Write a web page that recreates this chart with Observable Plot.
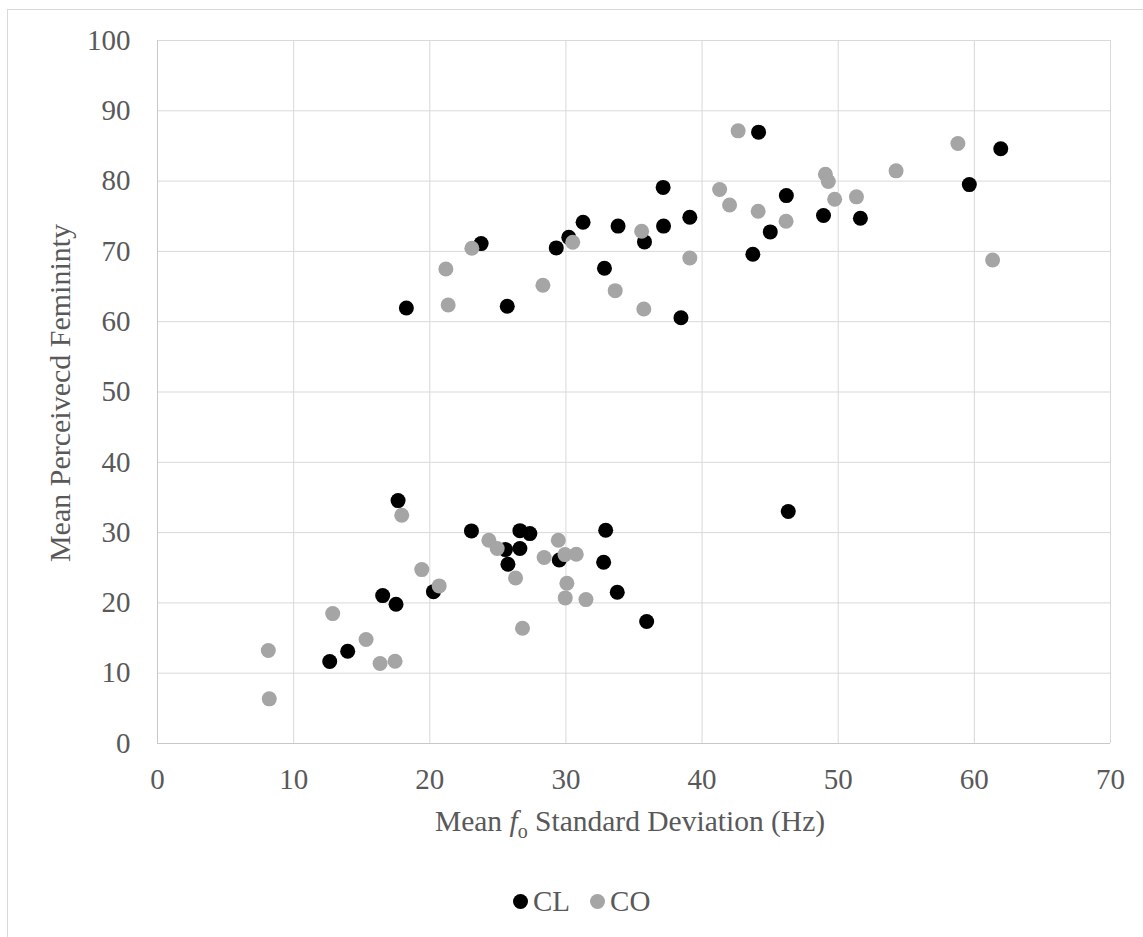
<!DOCTYPE html>
<html><head><meta charset="utf-8">
<script src="https://cdn.jsdelivr.net/npm/d3@7"></script>
<script src="https://cdn.jsdelivr.net/npm/@observablehq/plot@0.6"></script>
<style>
body{margin:0;background:#fff;overflow:hidden;}
#wrap{position:relative;width:1143px;height:937px;overflow:hidden;font-family:"Liberation Serif",serif;color:#595959;}
#frame{position:absolute;left:7px;top:9px;width:1200px;height:1000px;border:1px solid #d9d9d9;box-sizing:border-box;}
#chart{position:absolute;left:0;top:0;}
#legend{position:absolute;top:881px;left:513px;height:40px;display:flex;align-items:center;font-size:29px;color:#595959;}
#legend .sw{display:inline-block;width:15px;height:15px;border-radius:50%;margin-right:5px;}
#legend .item{display:flex;align-items:center;margin-right:20px;}
</style></head>
<body>
<div id="wrap"><div id="frame"></div><div id="chart"></div><div id="legend"></div></div>
<script>
const seriesNames = ["CL", "CO"];
const seriesColors = ["#000000", "#a5a5a5"];
const xTicks = [0, 10, 20, 30, 40, 50, 60, 70];
const yTicks = [0, 10, 20, 30, 40, 50, 60, 70, 80, 90, 100];

const clX = [23.77,18.28,25.69,29.29,30.21,31.26,33.83,35.77,37.14,37.17,39.1,32.83,38.45,44.15,46.19,45.01,43.73,48.92,51.63,61.94,59.63,
  17.67,23.06,25.56,26.62,27.35,26.62,25.74,20.27,16.54,17.52,13.97,12.65,29.51,32.92,32.77,33.77,35.93,46.33];
const clY = [71.11,61.95,62.2,70.5,72.0,74.15,73.6,71.35,79.1,73.6,74.86,67.6,60.57,86.96,77.94,72.77,69.59,75.1,74.72,84.6,79.5,
  34.55,30.24,27.58,30.28,29.86,27.73,25.5,21.6,21.04,19.81,13.13,11.66,26.11,30.33,25.78,21.52,17.35,33.0];
const coX = [23.09,21.18,21.35,28.31,30.5,35.56,33.62,35.72,39.1,42.65,41.29,42.02,44.12,46.17,49.06,49.27,49.74,51.34,54.25,58.79,61.34,
  17.94,24.34,24.95,26.3,28.4,26.81,19.41,20.69,12.87,15.32,16.35,17.45,8.14,8.21,29.44,29.93,30.76,30.07,29.95,31.47];
const coY = [70.45,67.5,62.38,65.18,71.3,72.87,64.42,61.8,69.07,87.15,78.8,76.6,75.71,74.29,80.98,79.94,77.42,77.76,81.46,85.35,68.78,
  32.46,28.91,27.73,23.55,26.45,16.4,24.74,22.42,18.48,14.79,11.37,11.7,13.22,6.35,28.91,26.87,26.92,22.8,20.71,20.47];

const cl = clX.map((x, i) => ({x, y: clY[i], s: seriesNames[0]}));
const co = coX.map((x, i) => ({x, y: coY[i], s: seriesNames[1]}));

const chart = Plot.plot({
  width: 1143, height: 870,
  marginLeft: 157, marginRight: 33, marginTop: 40, marginBottom: 127,
  style: {fontFamily: '"Liberation Serif", serif', fontSize: "29px", color: "#595959", background: "transparent", overflow: "visible"},
  x: {domain: [0, 70], ticks: xTicks, tickSize: 0, tickPadding: 25, label: null},
  y: {domain: [0, 100], ticks: yTicks, tickSize: 0, tickPadding: 27, label: null},
  marks: [
    Plot.gridX(xTicks, {stroke: "#d9d9d9", strokeOpacity: 1}),
    Plot.gridY(yTicks, {stroke: "#d9d9d9", strokeOpacity: 1}),
    Plot.ruleX([0], {stroke: "#c8c8c8"}),
    Plot.ruleY([0], {stroke: "#c8c8c8"}),
    Plot.dot(cl, {x: "x", y: "y", r: 7.5, fill: seriesColors[0]}),
    Plot.dot(co, {x: "x", y: "y", r: 7.5, fill: seriesColors[1]})
  ]
});
document.getElementById("chart").appendChild(chart);

const svg = d3.select(chart);
const xt = svg.append("text").attr("x", 630).attr("y", 831).attr("text-anchor", "middle")
  .attr("fill", "#595959").style("font-size", "29.5px").style("white-space", "pre");
xt.append("tspan").text("Mean ");
xt.append("tspan").attr("font-style", "italic").text("f");
xt.append("tspan").attr("dy", 7).attr("font-size", "20px").text("o");
xt.append("tspan").attr("dy", -7).text(" Standard Deviation (Hz)");

svg.append("text").attr("transform", "translate(70,393) rotate(-90)").attr("text-anchor", "middle")
  .attr("fill", "#595959").style("font-size", "30px").text("Mean Perceivecd Femininty");

const leg = d3.select("#legend");
seriesNames.forEach((n, i) => {
  const it = leg.append("div").attr("class", "item");
  it.append("span").attr("class", "sw").style("background", seriesColors[i]);
  it.append("span").text(n);
});
</script>
</body></html>
